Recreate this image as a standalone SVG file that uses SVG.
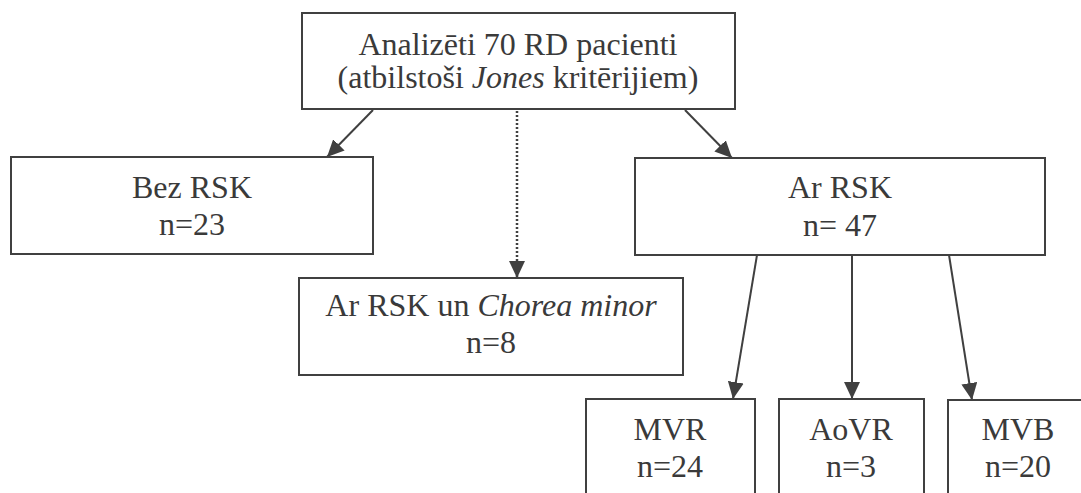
<svg xmlns="http://www.w3.org/2000/svg" width="1081" height="493" viewBox="0 0 1081 493">
<style>
.box{fill:#fff;stroke:#404040;stroke-width:2}
.t{font-family:'Liberation Serif','Times New Roman',serif;font-size:32px;fill:#3a3a3a;text-anchor:middle}
.c{stroke:#404040;stroke-width:2;fill:none}
.d{stroke:#404040;stroke-width:2.5;fill:none;stroke-dasharray:2 2}
</style>
<defs>
<marker id="ah" markerUnits="userSpaceOnUse" markerWidth="18" markerHeight="16" refX="17" refY="8" orient="auto">
<path d="M0,0 L17,8 L0,16 z" fill="#404040"/>
</marker>
</defs>
<rect width="1081" height="493" fill="#fff"/>
<g id="connectors">
<line class="c" x1="373" y1="110" x2="327" y2="157" marker-end="url(#ah)"/>
<line class="c" x1="685" y1="110" x2="732" y2="158" marker-end="url(#ah)"/>
<line class="d" x1="517" y1="111" x2="517" y2="278" marker-end="url(#ah)"/>
<line class="c" x1="757" y1="255" x2="733" y2="399" marker-end="url(#ah)"/>
<line class="c" x1="852" y1="255" x2="852" y2="399" marker-end="url(#ah)"/>
<line class="c" x1="949" y1="255" x2="972" y2="400" marker-end="url(#ah)"/>
</g>
<g id="n-top">
<rect class="box" x="302" y="13" width="433" height="96"/>
<text class="t" x="518" y="55" font-family="Liberation Serif">Analizēti 70 RD pacienti</text>
<text class="t" x="518" y="88">(atbilstoši <tspan font-style="italic">Jones</tspan> kritērijiem)</text>
</g>
<g id="n-bez">
<rect class="box" x="11" y="157" width="362" height="97"/>
<text class="t" x="192" y="198">Bez RSK</text>
<text class="t" x="192" y="235">n=23</text>
</g>
<g id="n-ar">
<rect class="box" x="635" y="158" width="410" height="97"/>
<text class="t" x="840" y="198">Ar RSK</text>
<text class="t" x="840" y="236">n= 47</text>
</g>
<g id="n-chorea">
<rect class="box" x="299" y="278" width="384" height="97"/>
<text class="t" x="491" y="316">Ar RSK un <tspan font-style="italic">Chorea minor</tspan></text>
<text class="t" x="491" y="353">n=8</text>
</g>
<g id="n-mvr">
<rect class="box" x="586" y="399" width="169" height="110"/>
<text class="t" x="670" y="440">MVR</text>
<text class="t" x="670" y="477">n=24</text>
</g>
<g id="n-aovr">
<rect class="box" x="779" y="399" width="145" height="110"/>
<text class="t" x="851" y="440">AoVR</text>
<text class="t" x="851" y="477">n=3</text>
</g>
<g id="n-mvb">
<rect class="box" x="948" y="400" width="140" height="110"/>
<text class="t" x="1018" y="440">MVB</text>
<text class="t" x="1018" y="477">n=20</text>
</g>
</svg>
